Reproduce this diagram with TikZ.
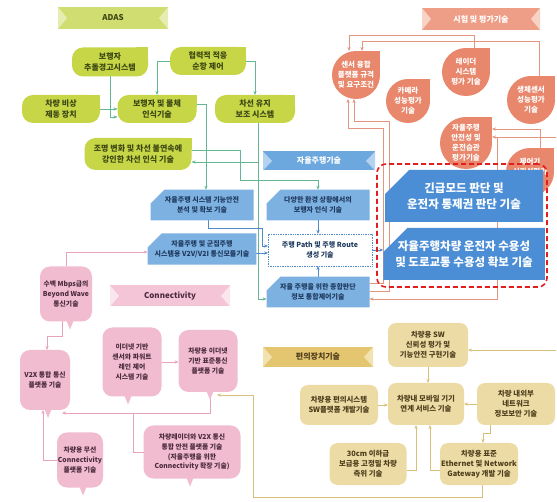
\documentclass[tikz,border=0pt]{standalone}
\usepackage{fontspec}
\setmainfont{Noto Sans CJK KR}
\usetikzlibrary{arrows.meta,shapes.misc}
\pgfdeclarelayer{back}
\pgfdeclarelayer{lines}
\pgfsetlayers{back,lines,main}
\definecolor{gfill}{HTML}{C6D647}
\definecolor{gtext}{HTML}{3C4712}
\definecolor{gban}{HTML}{D0DD70}
\definecolor{gnotch}{HTML}{E6EDB0}
\definecolor{gline}{HTML}{63B893}
\definecolor{sfill}{HTML}{E8876C}
\definecolor{sban}{HTML}{EE9E86}
\definecolor{snotch}{HTML}{F8D2C4}
\definecolor{sline}{HTML}{E39580}
\definecolor{bsmall}{HTML}{7DB1E1}
\definecolor{blarge}{HTML}{4B8ED6}
\definecolor{btext}{HTML}{1F3A5F}
\definecolor{bban}{HTML}{6CA7DE}
\definecolor{bnotch}{HTML}{B3D2F0}
\definecolor{bline}{HTML}{4F8BCB}
\definecolor{pfill}{HTML}{F2BCD0}
\definecolor{ptext}{HTML}{4A2A3C}
\definecolor{pban}{HTML}{F4C4D7}
\definecolor{pnotch}{HTML}{FBE6EE}
\definecolor{pline}{HTML}{E8A2BE}
\definecolor{tfill}{HTML}{EDDBA6}
\definecolor{ttext}{HTML}{4E3E1C}
\definecolor{tban}{HTML}{E4C671}
\definecolor{tnotch}{HTML}{F2E2B0}
\definecolor{tline}{HTML}{D8C07A}
\definecolor{redd}{HTML}{E02020}
\tikzset{
  every node/.style={inner sep=0pt,outer sep=0pt},
  gtxt/.style={align=center,text=gtext,font=\fontsize{8}{10.8}\selectfont\bfseries},
  stxt/.style={align=center,text=white,font=\fontsize{7.5}{10}\selectfont\bfseries},
  bsm/.style={chamfered rectangle,chamfered rectangle corners=north west,
    chamfered rectangle xsep=7pt,chamfered rectangle ysep=7pt,
    fill=bsmall,align=center,text=btext,font=\fontsize{7}{10}\selectfont\bfseries},
  blg/.style={chamfered rectangle,chamfered rectangle corners=north west,
    chamfered rectangle xsep=12pt,chamfered rectangle ysep=12pt,
    fill=blarge,align=center,text=white,font=\fontsize{11.5}{15.5}\selectfont\bfseries},
  bpathbox/.style={draw=bline,densely dotted,line width=0.7pt,fill=white,
    align=center,text=btext,font=\fontsize{7}{10}\selectfont\bfseries},
  ptxt/.style={align=center,text=ptext,font=\fontsize{6.8}{9.8}\selectfont\bfseries},
  tanbox/.style={fill=tfill,rounded corners=8pt,align=center,text=ttext,
    font=\fontsize{7.4}{10.2}\selectfont\bfseries},
  reddash/.style={draw=redd,line width=1.6pt,dash pattern=on 5pt off 3pt,rounded corners=9pt},
  bantxt/.style={font=\fontsize{8}{10}\selectfont\bfseries},
  tip/.style={-{Stealth[length=4pt,width=3.2pt]}},
  garr/.style={draw=gline,line width=0.6pt,tip},
  sarr/.style={draw=sline,line width=0.6pt,tip},
  barr/.style={draw=bline,line width=0.6pt,tip},
  parr/.style={draw=pline,line width=0.6pt,tip},
  pline/.style={draw=pline,line width=0.6pt},
  tarr/.style={draw=tline,line width=0.6pt,tip},
}
% name x y w h text
\newcommand\GreenLeaf[6]{%
  \fill[gfill,rounded corners=11pt] ({#2-#4/2},{#3-#5/2}) rectangle ({#2+#4/2},{#3+#5/2});
  \fill[gfill] ({#2+#4/2},{#3-#5/2}) rectangle ({#2+#4/2-12},{#3-#5/2+12});
  \node[gtxt,minimum width=#4pt,minimum height=#5pt] (#1) at (#2,#3) {#6};}
% name x y r text
\newcommand\SalmonDrop[5]{%
  \fill[sfill] (#2,#3) circle[radius=#4pt];
  \fill[sfill] (#2,#3) rectangle ({#2+#4},{#3-#4});
  \node[stxt,minimum width={2*#4pt},minimum height={2*#4pt}] (#1) at (#2,#3) {#5};}
% name x y w h tailoffset text
\newcommand\PinkBubble[7]{%
  \fill[pfill,rounded corners=10pt] ({#2-#4/2},{#3-#5/2}) rectangle ({#2+#4/2},{#3+#5/2});
  \fill[pfill] ({#2+(#6)-4},{#3+#5/2-2}) -- ({#2+(#6)},{#3+#5/2+8}) -- ({#2+(#6)+4},{#3+#5/2-2}) -- cycle;
  \node[ptxt,minimum width=#4pt,minimum height=#5pt] (#1) at (#2,#3) {#7};}
% name x y w h fill notch text
\newcommand\Ribbon[8]{%
  \fill[#6] ({#2-#4/2},{#3-#5/2}) rectangle ({#2+#4/2},{#3+#5/2});
  \fill[#7] ({#2-#4/2},{#3-#5/2}) -- ({#2-#4/2+9},{#3}) -- ({#2-#4/2},{#3+#5/2}) -- cycle;
  \fill[#7] ({#2+#4/2},{#3-#5/2}) -- ({#2+#4/2-9},{#3}) -- ({#2+#4/2},{#3+#5/2}) -- cycle;
  \node[bantxt,minimum width=#4pt,minimum height=#5pt] (#1) at (#2,#3) {#8};}
\begin{document}
\begin{tikzpicture}[x=1pt,y=-1pt]
\begin{pgfonlayer}{back}
\fill[white] (0,0) rectangle (557,502);
\end{pgfonlayer}
\useasboundingbox (0,0) rectangle (557,502);

% ---------- banners
\Ribbon{banADAS}{113}{18}{110}{22}{gban}{gnotch}{\textcolor{gtext}{ADAS}}
\Ribbon{banTest}{481}{19}{118}{22}{sban}{snotch}{\textcolor{white}{시험 및 평가기술}}
\Ribbon{banAD}{319}{161}{112}{19}{bban}{bnotch}{\textcolor{white}{자율주행기술}}
\Ribbon{banConn}{170}{296}{120}{21}{pban}{pnotch}{\textcolor{ptext}{Connectivity}}
\Ribbon{banConv}{318}{357}{110}{20}{tban}{tnotch}{\textcolor{ttext}{편의장치기술}}

% ---------- ADAS
\GreenLeaf{gPed}{110}{62}{76}{29}{보행자\\추돌경고시스템}
\GreenLeaf{gACC}{208}{61}{76}{28}{협력적 적응\\순항 제어}
\GreenLeaf{gAEB}{61}{109}{78}{28}{차량 비상\\제동 장치}
\GreenLeaf{gObj}{157}{109}{79}{28}{보행자 및 물체\\인식기술}
\GreenLeaf{gLKA}{255}{109}{80}{28}{차선 유지\\보조 시스템}
\GreenLeaf{gLane}{138}{154}{107}{32}{조명 변화 및 차선 불연속에\\강인한 차선 인식 기술}

% ---------- test & evaluation
\SalmonDrop{tSens}{356}{75}{24}{센서 융합\\플랫폼 규격\\및 요구조건}
\SalmonDrop{tCam}{408}{101}{22}{카메라\\성능평가\\기술}
\SalmonDrop{tRad}{466}{72}{24}{레이더\\시스템\\평가 기술}
\SalmonDrop{tBio}{531}{100}{24}{생체센서\\성능평가\\기술}
\SalmonDrop{tSafe}{466}{143}{26}{자율주행\\안전성 및\\운전습관\\평가기술}
\SalmonDrop{tCtl}{530}{172}{24}{제어기\\신뢰성평가\\기술}

% ---------- autonomous driving
\node[bsm,minimum width=103pt,minimum height=30pt] (bFS) at (202,205) {자율주행 시스템 기능안전\\분석 및 확보 기술};
\node[bsm,minimum width=103pt,minimum height=30pt] (bEnv) at (318,205) {다양한 환경 상황에서의\\보행자 인식 기술};
\node[bsm,minimum width=103pt,minimum height=30pt] (bV2V) at (202,249) {자율주행 및 군집주행\\시스템용 V2V/V2I 통신모듈기술};
\node[bpathbox,minimum width=104pt,minimum height=32pt] (bPath) at (320,250) {주행 Path 및 주행 Route\\생성 기술};
\node[bsm,minimum width=103pt,minimum height=28pt] (bInt) at (318,292) {자율 주행을 위한 종합판단\\정보 통합제어기술};
\node[blg,minimum width=158pt,minimum height=52pt] (bEmg) at (464,196) {긴급모드 판단 및\\운전자 통제권 판단 기술};
\node[blg,minimum width=158pt,minimum height=52pt] (bAcc) at (464,254) {자율주행차량 운전자 수용성\\및 도로교통 수용성 확보 기술};
\node[reddash,minimum width=170pt,minimum height=123pt] (redbox) at (462,225.5) {};

% ---------- connectivity
\PinkBubble{pMbps}{66}{294}{52}{55}{4}{수백 Mbps급의\\Beyond Wave\\통신기술}
\PinkBubble{pV2X}{45}{380}{50}{60}{3}{V2X 통합 통신\\플랫폼 기술}
\PinkBubble{pWL}{80}{460}{46}{55}{3}{차량용 무선\\Connectivity\\플랫폼 기술}
\PinkBubble{pEth}{132}{362}{59}{69}{-4}{이더넷 기반\\센서와 파워트\\레인 제어\\시스템 기술}
\PinkBubble{pStd}{208}{361}{59}{62}{2}{차량용 이더넷\\기반 표준통신\\플랫폼 기술}
\PinkBubble{pRad}{192}{452}{97}{53}{-2}{차량레이더와 V2X 통신\\통합 안전 플랫폼 기술\\(자율주행을 위한\\Connectivity 확장 기술)}

% ---------- convenience
\node[tanbox,minimum width=80pt,minimum height=44pt] (cSW) at (428,345) {차량용 SW\\신뢰성 평가 및\\기능안전 구현기술};
\node[tanbox,minimum width=78pt,minimum height=40pt] (cHMI) at (339,405) {차량용 편의시스템\\SW플랫폼 개발기술};
\node[tanbox,minimum width=76pt,minimum height=42pt] (cMob) at (426,404) {차량내 모바일 기기\\연계 서비스 기술};
\node[tanbox,minimum width=78pt,minimum height=42pt] (cSec) at (516,404) {차량 내외부\\네트워크\\정보보안 기술};
\node[tanbox,minimum width=77pt,minimum height=42pt] (cPos) at (368,464) {30cm 이하급\\보급용 고정밀 차량\\측위 기술};
\node[tanbox,minimum width=78pt,minimum height=42pt] (cGW) at (479,464) {차량용 표준\\Ethernet 및 Network\\Gateway 개발 기술};

% ---------- bend points
\coordinate (cg1) at (110,117);
\coordinate (cg5a) at (258,162);
\coordinate (cg5b) at (258,299);
\coordinate (cg6) at (240,180);
\coordinate (cg7) at (206,104);
\coordinate (cb3) at (262,228);
\coordinate (s1) at (349,35);
\coordinate (s2) at (362,41);
\coordinate (s3a) at (383,128);
\coordinate (s3b) at (389,121);
\coordinate (s4) at (556,137);
\coordinate (s5) at (497,137);
\coordinate (p2) at (47,336);
\coordinate (p5) at (133,413);
\coordinate (t4) at (556,350);
\coordinate (t5) at (483,433);
\coordinate (t8) at (253,497);

\begin{pgfonlayer}{lines}
% green
\draw[garr] (gPed.south) -- (cg1) -- (cg1 -| gObj.west);
\draw[garr] (gAEB.east) -- (gAEB.east -| gObj.west);
\draw[garr] (gACC.west) -| (gObj.north);
\draw[garr] (gACC.east) -| (gLKA.north);
\draw[garr] ([xshift=3pt]gLKA.south) -- (cg5b) -- (cg5b -| bInt.west);
\draw[garr] (cg5a) -- (cg5a -| gLane.east);
\draw[garr] ([yshift=4pt]gLane.east) -| (cg6) -| (bEnv.north);
\draw[garr] (cg7 -| gObj.east) -- (cg7) -- (cg7 |- bFS.north);
% blue
\draw[barr] (bEnv.south) -- (bEnv.south |- bPath.north);
\draw[barr] (bInt.north) -- (bInt.north |- bPath.south);
\draw[barr] ([xshift=6pt]bFS.south) |- (cb3) |- ([yshift=4pt]bPath.west);
\draw[barr] ([yshift=-4pt]bV2V.east) -- ([yshift=-4pt]bV2V.east -| bPath.west);
\draw[barr] (bPath.east) -- (bPath.east -| bAcc.west);
% salmon
\draw[sarr] ([xshift=8pt]tRad.north) |- (s1) -- (s1 |- tSens.north);
\draw[sarr] ([xshift=8pt]tBio.north) |- (s2) -- (s2 |- tSens.north);
\draw[sarr] ([yshift=9pt]bInt.east) -| (s3a) -| ([xshift=-8pt]tSens.south);
\draw[sarr] ([yshift=1pt]bInt.east) -| (s3b) -| ([xshift=-2pt]tSens.south);
\draw[sarr] ([xshift=10pt]tCtl.north) |- ([yshift=14pt]tSafe.east);
\draw[sarr] (s4) -- (s4 -| tSafe.east);
\draw[sarr] (s5) |- ([yshift=-7pt]bInt.east);
% pink
\draw[parr] (pMbps.north) |- ([yshift=-3pt]bV2V.west);
\draw[parr] ([xshift=-4pt]pMbps.south) |- (p2) -- (p2 |- pV2X.north);
\draw[parr] (pEth.east) -- (pEth.east -| pStd.west);
\draw[parr] (pWL.west) -| ([xshift=-2pt]pV2X.south);
\draw[parr] (pRad.west) -| (p5) -- ([xshift=-8pt,yshift=-3pt]pV2X.south east);
\draw[pline] ([xshift=2pt]pStd.south) |- (p5);
% tan
\draw[tarr] (cSW.south) -- (cSW.south |- cMob.north);
\draw[tarr] (cHMI.east) -- (cHMI.east -| cMob.west);
\draw[tarr] (cSec.west) -- (cSec.west -| cMob.east);
\draw[tarr] (t4) -- (t4 -| cSW.east);
\draw[tarr] ([xshift=-26pt]cSec.south) |- (t5) -- (t5 |- cGW.north);
\draw[tarr] ([yshift=-6pt]cPos.east) -| ([xshift=-10pt]cMob.south);
\draw[tarr] ([yshift=-6pt]cGW.west) -| ([xshift=4pt]cMob.south);
\draw[tarr] ([xshift=3pt]cGW.south) |- (t8) |- ([xshift=9pt,yshift=-3pt]pStd.south);
\end{pgfonlayer}
\end{tikzpicture}
\end{document}
